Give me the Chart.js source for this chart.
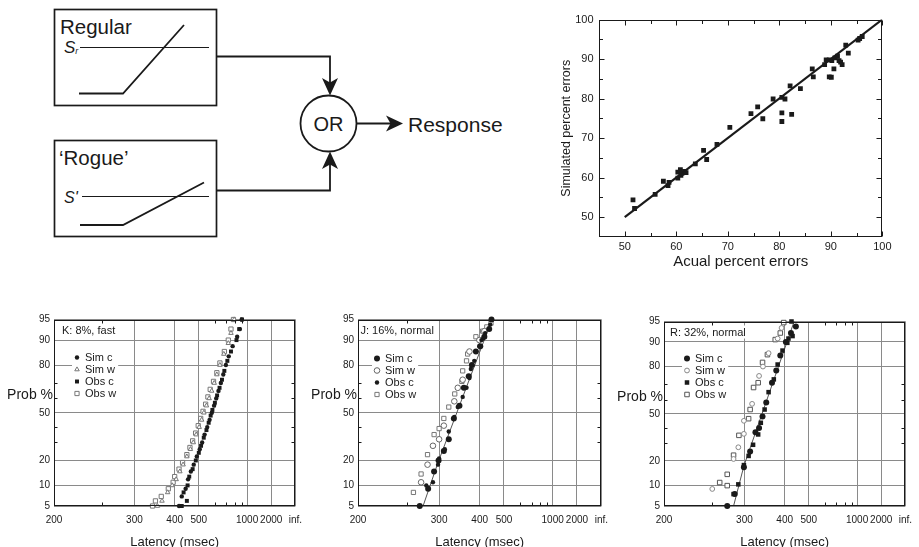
<!DOCTYPE html>
<html>
<head>
<meta charset="utf-8">
<script src="https://cdn.jsdelivr.net/npm/chart.js@4.4.0/dist/chart.umd.min.js"></script>
<style>
  html, body { margin: 0; padding: 0; background: #fff; }
  body { width: 919px; height: 547px; overflow: hidden; position: relative; font-family: "Liberation Sans", Arial, sans-serif; }
  .pane { position: absolute; }
  canvas { display: block; }
</style>
</head>
<body>

<!-- model diagram -->
<svg class="pane" style="left:0;top:0" width="520" height="250" fill="none" stroke="#1a1a1a" font-family="Liberation Sans, Arial, sans-serif">
  <rect x="54.5" y="9.5" width="162" height="96" stroke-width="1.7"/>
  <rect x="54.5" y="140.5" width="162" height="96" stroke-width="1.7"/>
  <line x1="80" y1="47.5" x2="209" y2="47.5" stroke-width="1.2"/>
  <polyline points="79,93.5 123,93.5 184,25" stroke-width="1.8"/>
  <line x1="82" y1="196.5" x2="209" y2="196.5" stroke-width="1.2"/>
  <polyline points="80,225 123,225 204,182.5" stroke-width="1.8"/>
  <polyline points="216.5,56.5 330,56.5 330,84" stroke-width="1.8"/>
  <polyline points="216.5,190.5 330,190.5 330,163" stroke-width="1.8"/>
  <circle cx="328.5" cy="123.5" r="28" stroke-width="1.8"/>
  <line x1="356.5" y1="123.5" x2="392" y2="123.5" stroke-width="1.8"/>
  <g fill="#1a1a1a" stroke="none">
    <path d="M330,95.5 L322,78 L330,82.5 L338,78 Z"/>
    <path d="M330,151.5 L322,169 L330,164.5 L338,169 Z"/>
    <path d="M403,123.5 L386,115.5 L390.5,123.5 L386,131.5 Z"/>
    <text x="60" y="33.5" font-size="20.5">Regular</text>
    <text x="59" y="165" font-size="20.5">‘Rogue’</text>
    <text x="64" y="53" font-size="17" font-style="italic">S<tspan font-size="9" dy="1">r</tspan></text>
    <text x="64" y="203" font-size="16" font-style="italic">S'</text>
    <text x="328.5" y="131" font-size="20" text-anchor="middle">OR</text>
    <text x="408" y="131.5" font-size="21">Response</text>
  </g>
</svg>

<div class="pane" style="left:555px;top:0"><canvas id="errors" width="340" height="275"></canvas></div>
<div class="pane" style="left:0;top:300px"><canvas id="panelK" width="310" height="255"></canvas></div>
<div class="pane" style="left:304px;top:300px"><canvas id="panelJ" width="312" height="255"></canvas></div>
<div class="pane" style="left:610px;top:300px"><canvas id="panelR" width="310" height="255"></canvas></div>

<script>
// ---------- top right: simulated vs actual percent errors ----------
const actualErrors = [51.6, 51.9, 55.9, 57.5, 58.4, 58.6, 60.3, 60.3, 60.8, 61.1, 61.6, 60.9, 61.9, 63.7, 65.3, 65.9, 67.9, 70.4,
  74.5, 75.8, 76.8, 78.8, 80.5, 81.1, 80.5, 80.5, 82.4, 82.1, 84.1, 86.4, 86.6, 88.8, 89.1, 89.7, 89.7, 90.1, 90.2, 90.6,
  90.8, 91.3, 91.6, 91.9, 92.2, 92.9, 93.4, 95.3, 95.6, 96.1];
const simulatedErrors = [54.4, 52.2, 55.8, 59.1, 58.0, 58.8, 59.9, 61.4, 62.0, 61.1, 61.6, 60.6, 61.3, 63.5, 66.9, 64.6, 68.4, 72.7,
  76.2, 77.9, 74.9, 79.9, 80.3, 79.9, 76.4, 74.2, 76.0, 83.2, 82.5, 87.5, 85.5, 88.6, 89.8, 89.8, 85.5, 85.4, 89.6, 87.5,
  90.3, 90.7, 89.6, 89.2, 88.6, 93.5, 91.5, 94.8, 95.2, 95.7];
const identityLine = [50, 100];
const errorTicks = [50, 60, 70, 80, 90, 100];
const errorMinorTicks = [55, 65, 75, 85, 95];

// ---------- bottom: reciprobit plots (latency in msec, cumulative prob in %) ----------
const latencyTicks = [200, 300, 400, 500, 1000, 2000, Infinity];
const latencyTickLabels = ['200', '300', '400', '500', '1000', '2000', 'inf.'];
const latencyMinorTicks = [250, 600, 700, 800, 900];
const probTicks = [5, 10, 20, 50, 80, 90, 95];
const probMinorTicks = [30, 40, 60, 70];

// K: 8%, fast
const kSimCLat  = [415, 425, 440, 450, 462, 475, 490, 505, 518, 532, 548, 563, 578, 594, 610, 628, 648, 670, 695, 725, 770, 830, 870, 900];
const kSimCProb = [5, 7, 9, 12, 15, 18, 22, 26, 30, 35, 40, 45, 50, 55, 60, 65, 70, 75, 80, 84, 88, 91, 93, 95];
const kSimWLat  = [350, 362, 378, 392, 405, 418, 430, 445, 460, 473, 487, 502, 515, 528, 543, 560, 577, 595, 615, 640, 675, 720, 750, 790];
const kSimWProb = [5, 6, 8, 10, 12, 15, 18, 22, 26, 30, 35, 40, 45, 50, 55, 60, 65, 70, 75, 80, 85, 89, 92, 95];
const kObsCLat  = [425, 445, 432, 448, 455, 470, 485, 500, 512, 527, 543, 557, 570, 582, 600, 617, 637, 658, 680, 710, 750, 820, 860, 905];
const kObsCProb = [5, 6, 8, 10, 13, 16, 20, 24, 28, 33, 38, 43, 48, 52, 57, 62, 67, 72, 77, 82, 86, 90, 93, 95];
const kObsWLat  = [338, 345, 360, 380, 395, 400, 415, 428, 445, 458, 470, 484, 497, 510, 523, 538, 552, 567, 590, 615, 640, 680, 720, 750, 780];
const kObsWProb = [5, 6, 7, 9, 11, 13, 16, 19, 23, 27, 31, 36, 41, 46, 51, 56, 61, 66, 71, 76, 81, 86, 90, 93, 95];

// J: 16%, normal
const jSimCLat  = [268, 281, 291, 299, 309, 319, 330, 343, 354, 367, 376, 388, 402, 416, 434, 443];
const jSimCProb = [5, 9, 15, 20, 25, 32, 46, 55, 67, 74, 80, 86, 88, 91, 93, 95];
const jSimWLat  = [270, 280, 289, 300, 309, 331, 339, 351, 369, 399, 416];
const jSimWProb = [11, 18, 28, 32, 41, 58, 67, 72, 86, 90, 92.5];
const jObsCLat  = [278, 289, 298, 300, 311, 319, 331, 339, 351, 361, 369, 373, 383, 399, 406, 412, 419, 438];
const jObsCProb = [10, 11, 18, 21, 26, 37, 47, 54, 61, 67, 73, 78, 82, 88, 90, 90.5, 92, 94];
const jObsWLat  = [259, 270, 280, 291, 300, 309, 319, 332, 349, 351, 361, 364, 388, 410, 425, 441];
const jObsWProb = [8, 14, 23, 35, 39, 46, 54, 63, 71, 77, 82, 85, 91, 92.5, 93.5, 94.3];
const jFitLat   = [273, 298, 445];
const jFitProb  = [5, 19, 95];

// R: 32%, normal
const rSimCLat  = [271, 283, 299, 311, 322, 330, 338, 347, 362, 374, 386, 404, 422, 441];
const rSimCProb = [5, 7.6, 17, 25, 37, 40, 48, 58, 71, 78, 85, 90, 92.5, 94];
const rSimWLat  = [250, 281, 289, 299, 299, 315, 330, 339, 353, 378, 390];
const rSimWProb = [9, 21, 27.5, 36, 45, 57, 75, 80, 86, 91, 93.7];
const rObsCLat  = [281, 289, 299, 308, 317, 328, 334, 343, 353, 367, 378, 393, 409, 413, 424, 428];
const rObsCProb = [7.6, 10.4, 18, 22.6, 29, 35.6, 43.6, 53, 65, 73, 81, 87, 89.7, 91, 95, 91.7];
const rObsWLat  = [260, 271, 271, 281, 290, 308, 311, 318, 328, 338, 350, 371, 386, 397];
const rObsWProb = [11, 10, 14, 23, 35, 46.5, 53, 68, 71, 82, 85.4, 90.7, 92.5, 94.8];
const rFitLat   = [281, 299, 434];
const rFitProb  = [5, 17.6, 95];

const INK = '#1a1a1a';
const FONT = '"Liberation Sans", Arial, sans-serif';
Chart.defaults.font.family = FONT;
Chart.defaults.color = INK;

// reciprocal time axis: -1000/t, so 200 ms -> -5 and infinity -> 0
function recip(t) { return -1000 / t; }

// inverse normal CDF (Acklam), central region is enough for 5%..95%
function probit(p) {
  const a = [-39.69683028665376, 220.9460984245205, -275.9285104469687, 138.3577518672690, -30.66479806614716, 2.506628277459239];
  const b = [-54.47609879822406, 161.5858368580409, -155.6989798598866, 66.80131188771972, -13.28068155288572];
  const q = p - 0.5, r = q * q;
  return (((((a[0] * r + a[1]) * r + a[2]) * r + a[3]) * r + a[4]) * r + a[5]) * q /
         (((((b[0] * r + b[1]) * r + b[2]) * r + b[3]) * r + b[4]) * r + 1);
}

function drawMarker(ctx, s, x, y) {
  const r = s.radius;
  ctx.beginPath();
  if (s.pointStyle === 'rect') {
    const h = r * Math.SQRT1_2;
    ctx.rect(x - h, y - h, 2 * h, 2 * h);
  } else if (s.pointStyle === 'triangle') {
    ctx.moveTo(x, y - r);
    ctx.lineTo(x + 0.866 * r, y + 0.5 * r);
    ctx.lineTo(x - 0.866 * r, y + 0.5 * r);
    ctx.closePath();
  } else {
    ctx.arc(x, y, r, 0, Math.PI * 2);
  }
  ctx.fillStyle = s.fill;
  ctx.fill();
  if (s.borderWidth) {
    ctx.lineWidth = s.borderWidth;
    ctx.strokeStyle = s.border;
    ctx.stroke();
  }
}

// box round the plot area with inward tick marks
const framePlugin = {
  id: 'frame',
  afterDraw(chart, args, o) {
    const { ctx, chartArea: a, scales: { x, y } } = chart;
    ctx.save();
    ctx.strokeStyle = INK;
    ctx.lineWidth = 1;
    const l = Math.round(a.left) + 0.5, t = Math.round(a.top) + 0.5;
    const rr = Math.round(a.right) - 0.5, bb = Math.round(a.bottom) - 0.5;
    ctx.strokeRect(l, t, rr - l, bb - t);
    ctx.beginPath();
    (o.xTicks || []).forEach(([v, len]) => {
      const px = Math.round(x.getPixelForValue(v)) + 0.5;
      ctx.moveTo(px, bb); ctx.lineTo(px, bb - len);
      ctx.moveTo(px, t); ctx.lineTo(px, t + len);
    });
    (o.yTicks || []).forEach(([v, len]) => {
      const py = Math.round(y.getPixelForValue(v)) + 0.5;
      ctx.moveTo(l, py); ctx.lineTo(l + len, py);
      ctx.moveTo(rr, py); ctx.lineTo(rr - len, py);
    });
    ctx.stroke();
    ctx.restore();
  }
};

// panel caption, in-plot legend and the "Prob %" label
const panelDecor = {
  id: 'decor',
  afterDatasetsDraw(chart, args, o) {
    const { ctx, chartArea: a } = chart;
    ctx.save();
    ctx.textBaseline = 'middle';
    ctx.textAlign = 'left';
    ctx.font = '11px ' + FONT;
    const w = ctx.measureText(o.label).width;
    ctx.fillStyle = '#fff';
    ctx.fillRect(a.left + o.labelDx - 1, a.top + 4, w + 2, 13);
    ctx.fillStyle = INK;
    ctx.fillText(o.label, a.left + o.labelDx, a.top + 11);

    const lg = o.legend;
    const n = lg.items.length;
    const tw = Math.max(...lg.items.map(it => ctx.measureText(it.label).width));
    ctx.fillStyle = '#fff';
    ctx.fillRect(a.left + lg.markerDx - 5, a.top + lg.y0 - 6, lg.textDx - lg.markerDx + tw + 7, lg.dy * (n - 1) + 12);
    lg.items.forEach((it, i) => {
      const yy = a.top + lg.y0 + i * lg.dy;
      drawMarker(ctx, it.style, a.left + lg.markerDx, yy);
      ctx.fillStyle = INK;
      ctx.fillText(it.label, a.left + lg.textDx, yy);
    });

    ctx.font = '14px ' + FONT;
    ctx.textAlign = 'right';
    ctx.fillStyle = INK;
    ctx.fillText('Prob %', a.left - 1, a.top + 76);
    ctx.restore();
  }
};

new Chart(document.getElementById('errors'), {
  type: 'scatter',
  data: {
    datasets: [
      {
        data: actualErrors.map((v, i) => ({ x: v, y: simulatedErrors[i] })),
        pointStyle: 'rect', pointRadius: 3.4, backgroundColor: INK, borderWidth: 0, order: 0
      },
      {
        type: 'line',
        data: identityLine.map(v => ({ x: v, y: v })),
        borderColor: INK, borderWidth: 2.2, pointRadius: 0, fill: false, order: 1
      }
    ]
  },
  options: {
    responsive: false, animation: false, events: [],
    layout: { padding: { top: 19.5, right: 11, bottom: 0, left: 0 } },
    plugins: {
      legend: { display: false }, tooltip: { enabled: false },
      frame: {
        xTicks: errorTicks.map(v => [v, 5]).concat(errorMinorTicks.map(v => [v, 3.5])),
        yTicks: errorTicks.map(v => [v, 5]).concat(errorMinorTicks.map(v => [v, 3.5]))
      }
    },
    scales: {
      x: {
        type: 'linear', min: 45, max: 100,
        afterBuildTicks: s => { s.ticks = errorTicks.map(v => ({ value: v })); },
        afterFit: s => { s.height = 38; },
        grid: { display: false, drawTicks: false }, border: { display: false },
        ticks: { padding: 3.5, font: { size: 11 } },
        title: { display: true, text: 'Acual percent errors', font: { size: 15 }, padding: { top: 0, bottom: 4 } }
      },
      y: {
        type: 'linear', min: 45, max: 100,
        afterBuildTicks: s => { s.ticks = errorTicks.map(v => ({ value: v })); },
        afterFit: s => { s.width = 44; },
        grid: { display: false, drawTicks: false }, border: { display: false },
        ticks: { padding: 5.5, font: { size: 11 } },
        title: { display: true, text: 'Simulated percent errors', font: { size: 12.5 }, padding: { top: 4.5, bottom: 0 } }
      }
    }
  },
  plugins: [framePlugin]
});

function reciprobitPanel(id, cfg) {
  const datasets = cfg.series.map(s => ({
    data: s.lat.map((t, i) => ({ x: recip(t), y: probit(s.prob[i] / 100) })),
    pointStyle: s.style.pointStyle, pointRadius: s.style.radius,
    backgroundColor: s.style.fill, borderColor: s.style.border, borderWidth: s.style.borderWidth,
    order: s.style.order, clip: false
  }));
  if (cfg.fit) {
    datasets.push({
      type: 'line',
      data: cfg.fit.lat.map((t, i) => ({ x: recip(t), y: probit(cfg.fit.prob[i] / 100) })),
      borderColor: '#555', borderWidth: 1, pointRadius: 0, fill: false, order: 5, clip: false
    });
  }
  new Chart(document.getElementById(id), {
    type: 'scatter',
    data: { datasets },
    options: {
      responsive: false, animation: false, events: [],
      layout: { padding: { top: cfg.top, right: cfg.right, bottom: 0, left: 0 } },
      plugins: {
        legend: { display: false }, tooltip: { enabled: false },
        frame: {
          xTicks: latencyMinorTicks.map(t => [recip(t), 3]),
          yTicks: probMinorTicks.map(p => [probit(p / 100), 3])
        },
        decor: {
          label: cfg.label, labelDx: cfg.labelDx,
          legend: {
            markerDx: cfg.legendDx, textDx: cfg.legendDx + 8, y0: cfg.legendY, dy: 12,
            items: cfg.series.map(s => ({ label: s.label, style: s.style }))
          }
        }
      },
      scales: {
        x: {
          type: 'linear', min: recip(200), max: 0,
          afterBuildTicks: s => { s.ticks = latencyTicks.map(t => ({ value: recip(t) })); },
          afterFit: s => { s.height = 49; },
          grid: { color: '#8a8a8a', lineWidth: 1, drawTicks: false }, border: { display: false },
          ticks: { padding: 8, font: { size: 10 }, callback: (v, i) => latencyTickLabels[i] },
          title: { display: true, text: 'Latency (msec)', font: { size: 13 }, padding: { top: 0, bottom: 5 } }
        },
        y: {
          type: 'linear', min: probit(0.05), max: probit(0.95),
          afterBuildTicks: s => { s.ticks = probTicks.map(p => ({ value: probit(p / 100) })); },
          afterFit: s => { s.width = 54; },
          grid: { color: '#8a8a8a', lineWidth: 1, drawTicks: false }, border: { display: false },
          ticks: { padding: 4, font: { size: 10 }, callback: (v, i) => String(probTicks[i]) }
        }
      }
    },
    plugins: [panelDecor, framePlugin]
  });
}

const filledDot   = r => ({ pointStyle: 'circle', radius: r, fill: INK, border: INK, borderWidth: 0, order: 0 });
const filledBox   = r => ({ pointStyle: 'rect', radius: r, fill: INK, border: INK, borderWidth: 0, order: 0 });
const openDot     = (r, c) => ({ pointStyle: 'circle', radius: r, fill: '#fff', border: c, borderWidth: 1, order: 1 });
const openBox     = (r, c) => ({ pointStyle: 'rect', radius: r, fill: '#fff', border: c, borderWidth: 1, order: 1 });
const openTri     = (r, c) => ({ pointStyle: 'triangle', radius: r, fill: '#fff', border: c, borderWidth: 1, order: 1 });

reciprobitPanel('panelK', {
  label: 'K: 8%, fast', labelDx: 8, legendDx: 23, legendY: 38, top: 19.5, right: 13,
  series: [
    { label: 'Sim c', lat: kSimCLat, prob: kSimCProb, style: filledDot(2.2) },
    { label: 'Sim w', lat: kSimWLat, prob: kSimWProb, style: openTri(2.6, '#777') },
    { label: 'Obs c', lat: kObsCLat, prob: kObsCProb, style: filledBox(2.8) },
    { label: 'Obs w', lat: kObsWLat, prob: kObsWProb, style: openBox(3, '#777') }
  ]
});

reciprobitPanel('panelJ', {
  label: 'J: 16%, normal', labelDx: 2.5, legendDx: 19, legendY: 39, top: 19.5, right: 13,
  series: [
    { label: 'Sim c', lat: jSimCLat, prob: jSimCProb, style: filledDot(3) },
    { label: 'Sim w', lat: jSimWLat, prob: jSimWProb, style: openDot(2.8, '#666') },
    { label: 'Obs c', lat: jObsCLat, prob: jObsCProb, style: filledDot(2.2) },
    { label: 'Obs w', lat: jObsWLat, prob: jObsWProb, style: openBox(3, '#777') }
  ],
  fit: { lat: jFitLat, prob: jFitProb }
});

reciprobitPanel('panelR', {
  label: 'R: 32%, normal', labelDx: 6, legendDx: 23, legendY: 37, top: 21.5, right: 10,
  series: [
    { label: 'Sim c', lat: rSimCLat, prob: rSimCProb, style: filledDot(3) },
    { label: 'Sim w', lat: rSimWLat, prob: rSimWProb, style: openDot(2.4, '#888') },
    { label: 'Obs c', lat: rObsCLat, prob: rObsCProb, style: filledBox(3.2) },
    { label: 'Obs w', lat: rObsWLat, prob: rObsWProb, style: openBox(3.2, '#555') }
  ],
  fit: { lat: rFitLat, prob: rFitProb }
});
</script>
</body>
</html>
